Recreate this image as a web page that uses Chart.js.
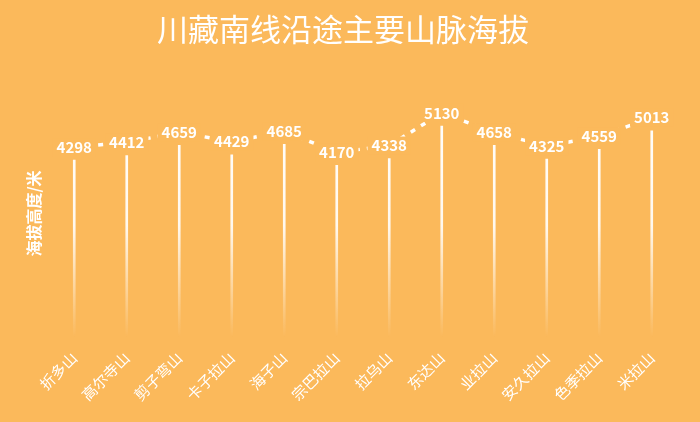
<!DOCTYPE html>
<html>
<head>
<meta charset="utf-8">
<script src="https://cdn.jsdelivr.net/npm/chart.js@4"></script>
<style>
  html, body { margin: 0; padding: 0; background: #FBB95B; }
  #wrap { width: 700px; height: 422px; position: relative; }
</style>
</head>
<body>
<div id="wrap"><canvas id="altChart"></canvas></div>
<script>
const mountains = ['折多山', '高尔寺山', '剪子弯山', '卡子拉山', '海子山', '宗巴拉山', '拉乌山', '东达山', '业拉山', '安久拉山', '色季拉山', '米拉山'];
const altitudes = [4298, 4412, 4659, 4429, 4685, 4170, 4338, 5130, 4658, 4325, 4559, 5013];

const BG = '#FBB95B';
const FONT = '"Noto Sans CJK SC", "Noto Sans", sans-serif';

// line sits a bit above the bar tops, like the source chart
const lineLift = {
  id: 'lineLift',
  beforeDatasetDraw(chart, args) {
    if (args.index === 1) { chart.ctx.save(); chart.ctx.translate(0, -13); }
  },
  afterDatasetDraw(chart, args) {
    if (args.index === 1) chart.ctx.restore();
  }
};

const valueLabels = {
  id: 'valueLabels',
  afterDatasetsDraw(chart) {
    const ctx = chart.ctx;
    const meta = chart.getDatasetMeta(1);
    ctx.save();
    ctx.font = 'bold 15px ' + FONT;
    ctx.textAlign = 'center';
    ctx.textBaseline = 'middle';
    meta.data.forEach((pt, i) => {
      const txt = String(altitudes[i]);
      const w = ctx.measureText(txt).width + 8;
      const y = pt.y - 13;
      ctx.fillStyle = BG;
      ctx.fillRect(pt.x - w / 2, y - 9, w, 18);
      ctx.fillStyle = '#fff';
      ctx.fillText(txt, pt.x, y);
    });
    ctx.restore();
  }
};

const ctx = document.getElementById('altChart').getContext('2d');
new Chart(ctx, {
  data: {
    labels: mountains,
    datasets: [
      {
        type: 'bar',
        data: altitudes,
        barThickness: 2,
        backgroundColor(c) {
          const area = c.chart.chartArea;
          if (!area) return '#fff';
          const g = c.chart.ctx.createLinearGradient(0, area.top, 0, area.bottom);
          g.addColorStop(0, 'rgba(255,255,255,1)');
          g.addColorStop(0.55, 'rgba(255,255,255,0.9)');
          g.addColorStop(1, 'rgba(255,255,255,0)');
          return g;
        },
        order: 2
      },
      {
        type: 'line',
        data: altitudes,
        borderColor: '#fff',
        borderWidth: 3.5,
        borderDash: [5, 7],
        pointRadius: 0,
        fill: false,
        order: 1
      }
    ]
  },
  options: {
    responsive: true,
    maintainAspectRatio: false,
    animation: false,
    layout: { padding: { left: 8, right: 22, top: 0, bottom: 14 } },
    plugins: {
      legend: { display: false },
      tooltip: { enabled: false },
      title: {
        display: true,
        text: '川藏南线沿途主要山脉海拔',
        color: '#fff',
        font: { family: FONT, size: 31, weight: 'normal' },
        padding: { top: 11, bottom: 42 }
      }
    },
    scales: {
      x: {
        grid: { display: false },
        border: { display: false },
        ticks: {
          color: '#fff',
          font: { family: FONT, size: 15 },
          minRotation: 45,
          maxRotation: 45,
          padding: 4
        }
      },
      y: {
        min: 0,
        max: 6000,
        grid: { display: false },
        border: { display: false },
        ticks: { display: false },
        title: {
          display: true,
          text: '海拔高度/米',
          color: '#fff',
          font: { family: FONT, size: 16, weight: 'bold' },
          padding: { top: 16, bottom: 0 }
        },
        afterFit(scale) { scale.width = 40; }
      }
    }
  },
  plugins: [lineLift, valueLabels]
});
</script>
</body>
</html>
